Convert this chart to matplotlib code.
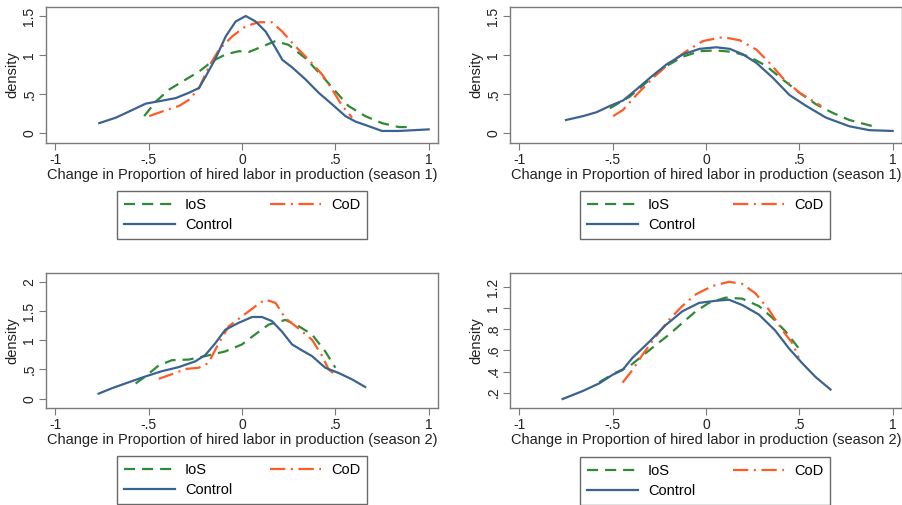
import numpy as np
import matplotlib
matplotlib.use("Agg")
import matplotlib.pyplot as plt

plt.rcParams['font.family'] = ['Liberation Sans', 'DejaVu Sans']
plt.rcParams['lines.scale_dashes'] = False

# panel 1: season 1 (left)
p1_ctrl_x = [-0.765, -0.676, -0.586, -0.515, -0.444, -0.355, -0.283, -0.23, -0.194, -0.141, -0.087, -0.034, 0.02, 0.073, 0.127, 0.18, 0.216, 0.27, 0.34, 0.41, 0.483, 0.554, 0.608, 0.68, 0.75, 0.84, 1.0]
p1_ctrl_y = [0.13, 0.20, 0.30, 0.38, 0.41, 0.45, 0.52, 0.58, 0.73, 0.96, 1.24, 1.43, 1.50, 1.43, 1.30, 1.09, 0.94, 0.84, 0.69, 0.52, 0.37, 0.22, 0.15, 0.09, 0.03, 0.03, 0.05]
p1_ios_x = [-0.524, -0.46, -0.39, -0.30, -0.23, -0.16, -0.087, -0.016, 0.037, 0.109, 0.18, 0.25, 0.34, 0.43, 0.50, 0.57, 0.66, 0.75, 0.84, 0.91]
p1_ios_y = [0.22, 0.41, 0.56, 0.69, 0.79, 0.92, 1.01, 1.05, 1.04, 1.11, 1.18, 1.13, 0.96, 0.73, 0.54, 0.35, 0.22, 0.13, 0.08, 0.08]
p1_cod_x = [-0.497, -0.426, -0.337, -0.283, -0.23, -0.176, -0.123, -0.052, 0.02, 0.09, 0.16, 0.216, 0.287, 0.358, 0.43, 0.483, 0.537, 0.59]
p1_cod_y = [0.22, 0.28, 0.35, 0.43, 0.58, 0.86, 1.07, 1.24, 1.37, 1.42, 1.42, 1.30, 1.11, 0.94, 0.75, 0.56, 0.35, 0.20]

# panel 2: season 1 (right)
p2_ctrl_x = [-0.75, -0.658, -0.586, -0.515, -0.444, -0.373, -0.30, -0.212, -0.123, -0.034, 0.055, 0.127, 0.198, 0.27, 0.358, 0.447, 0.537, 0.643, 0.768, 0.875, 1.0]
p2_ctrl_y = [0.17, 0.22, 0.27, 0.35, 0.42, 0.56, 0.71, 0.88, 1.01, 1.08, 1.10, 1.08, 1.01, 0.90, 0.71, 0.49, 0.35, 0.20, 0.09, 0.04, 0.03]
p2_ios_x = [-0.515, -0.408, -0.30, -0.212, -0.123, -0.034, 0.055, 0.144, 0.233, 0.323, 0.41, 0.50, 0.59, 0.68, 0.768, 0.91]
p2_ios_y = [0.32, 0.47, 0.69, 0.86, 0.98, 1.05, 1.06, 1.04, 0.98, 0.86, 0.69, 0.52, 0.37, 0.26, 0.17, 0.08]
p2_cod_x = [-0.497, -0.444, -0.373, -0.283, -0.194, -0.105, -0.016, 0.09, 0.18, 0.27, 0.34, 0.41, 0.50, 0.617]
p2_cod_y = [0.22, 0.30, 0.49, 0.71, 0.90, 1.05, 1.18, 1.23, 1.19, 1.07, 0.90, 0.71, 0.52, 0.35]

# panel 3: season 2 (left)
p3_ctrl_x = [-0.768, -0.696, -0.59, -0.518, -0.43, -0.34, -0.25, -0.196, -0.143, -0.09, -0.018, 0.054, 0.107, 0.16, 0.214, 0.268, 0.32, 0.375, 0.446, 0.518, 0.59, 0.66]
p3_ctrl_y = [0.086, 0.18, 0.30, 0.38, 0.47, 0.54, 0.64, 0.75, 0.95, 1.18, 1.30, 1.40, 1.40, 1.33, 1.15, 0.93, 0.83, 0.73, 0.53, 0.44, 0.33, 0.20]
p3_ios_x = [-0.57, -0.518, -0.446, -0.375, -0.286, -0.196, -0.09, 0.0, 0.07, 0.143, 0.232, 0.30, 0.375, 0.446, 0.50]
p3_ios_y = [0.26, 0.38, 0.57, 0.66, 0.67, 0.73, 0.81, 0.93, 1.10, 1.27, 1.35, 1.25, 1.10, 0.81, 0.53]
p3_cod_x = [-0.446, -0.375, -0.30, -0.232, -0.18, -0.125, -0.071, 0.0, 0.07, 0.125, 0.18, 0.232, 0.30, 0.375, 0.43, 0.464, 0.50]
p3_cod_y = [0.34, 0.42, 0.51, 0.53, 0.61, 0.95, 1.24, 1.41, 1.58, 1.70, 1.64, 1.38, 1.21, 1.01, 0.73, 0.50, 0.41]

# panel 4: season 2 (right)
p4_ctrl_x = [-0.768, -0.66, -0.57, -0.50, -0.447, -0.394, -0.305, -0.216, -0.127, -0.037, 0.052, 0.123, 0.194, 0.283, 0.37, 0.444, 0.515, 0.586, 0.667]
p4_ctrl_y = [0.14, 0.216, 0.29, 0.37, 0.415, 0.53, 0.68, 0.84, 0.97, 1.05, 1.07, 1.08, 1.03, 0.94, 0.79, 0.62, 0.48, 0.35, 0.23]
p4_ios_x = [-0.572, -0.483, -0.41, -0.34, -0.27, -0.198, -0.127, -0.055, 0.016, 0.105, 0.194, 0.283, 0.355, 0.426, 0.497]
p4_ios_y = [0.30, 0.39, 0.45, 0.55, 0.65, 0.75, 0.86, 0.97, 1.05, 1.10, 1.09, 1.02, 0.91, 0.78, 0.62]
p4_cod_x = [-0.447, -0.394, -0.34, -0.27, -0.198, -0.127, -0.055, 0.034, 0.123, 0.194, 0.265, 0.337, 0.408, 0.462, 0.497]
p4_cod_y = [0.295, 0.415, 0.56, 0.73, 0.89, 1.02, 1.13, 1.21, 1.25, 1.23, 1.14, 0.985, 0.795, 0.67, 0.53]

xticks = [-1, -0.5, 0, 0.5, 1]
xticklabels = ["-1", "-.5", "0", ".5", "1"]
xlabels = ["Change in Proportion of hired labor in production (season 1)",
           "Change in Proportion of hired labor in production (season 2)"]

c_ios = "#2f8a36"
c_cod = "#ff5b26"
c_ctrl = "#3b6390"
frame = "#7a7a7a"

W, H = 903, 505
fig = plt.figure(figsize=(W / 100, H / 100), dpi=100)


def px_axes(left, top, right, bottom):
    return fig.add_axes([left / W, 1 - bottom / H, (right - left) / W, (bottom - top) / H])


panels = [
    (px_axes(46, 7, 438, 143), p1_ios_x, p1_ios_y, p1_cod_x, p1_cod_y, p1_ctrl_x, p1_ctrl_y,
     (-0.124, 1.615), [0, 0.5, 1, 1.5], ["0", ".5", "1", "1.5"], xlabels[0], (242, 215)),
    (px_axes(510, 7, 902, 143), p2_ios_x, p2_ios_y, p2_cod_x, p2_cod_y, p2_ctrl_x, p2_ctrl_y,
     (-0.124, 1.615), [0, 0.5, 1, 1.5], ["0", ".5", "1", "1.5"], xlabels[0], (705, 215)),
    (px_axes(46, 273, 438, 408), p3_ios_x, p3_ios_y, p3_cod_x, p3_cod_y, p3_ctrl_x, p3_ctrl_y,
     (-0.16, 2.154), [0, 0.5, 1, 1.5, 2], ["0", ".5", "1", "1.5", "2"], xlabels[1], (242, 480)),
    (px_axes(510, 273, 902, 408), p4_ios_x, p4_ios_y, p4_cod_x, p4_cod_y, p4_ctrl_x, p4_ctrl_y,
     (0.055, 1.333), [0.2, 0.4, 0.6, 0.8, 1, 1.2], [".2", ".4", ".6", ".8", "1", "1.2"], xlabels[1], (705, 481)),
]

for ax, ix, iy, cx, cy, kx, ky, ylim, yt, ytl, xl, leg_c in panels:
    l1, = ax.plot(ix, iy, color=c_ios, lw=1.6, dashes=(8, 5), label="IoS")
    l2, = ax.plot(cx, cy, color=c_cod, lw=1.6, dashes=(11, 4, 1.5, 4), label="CoD")
    l3, = ax.plot(kx, ky, color=c_ctrl, lw=1.6, label="Control")
    ax.set_xlim(-1.05, 1.05)
    ax.set_ylim(*ylim)
    ax.set_xticks(xticks)
    ax.set_xticklabels(xticklabels)
    ax.set_yticks(yt)
    ax.set_yticklabels(ytl, rotation=90, va="center")
    ax.tick_params(labelsize=10, length=5, color=frame, colors="#222222", pad=2)
    ax.set_xlabel(xl, fontsize=10.5, labelpad=1, color="#222222")
    ax.set_ylabel("density", fontsize=10.5, labelpad=2, color="#222222")
    for s in ax.spines.values():
        s.set_color(frame)
        s.set_linewidth(1.0)
    leg = fig.legend([l1, l3, l2], ["IoS", "Control", "CoD"], ncol=2,
                     loc="center", bbox_to_anchor=(leg_c[0] / W, 1 - leg_c[1] / H),
                     fontsize=10.5, frameon=True, fancybox=False, handlelength=3.5,
                     columnspacing=2.6, handletextpad=0.7, labelspacing=0.45,
                     borderpad=0.45, borderaxespad=0)
    leg.get_frame().set_edgecolor("#444444")
    leg.get_frame().set_linewidth(1.0)

fig.savefig("out.png", dpi=100)
